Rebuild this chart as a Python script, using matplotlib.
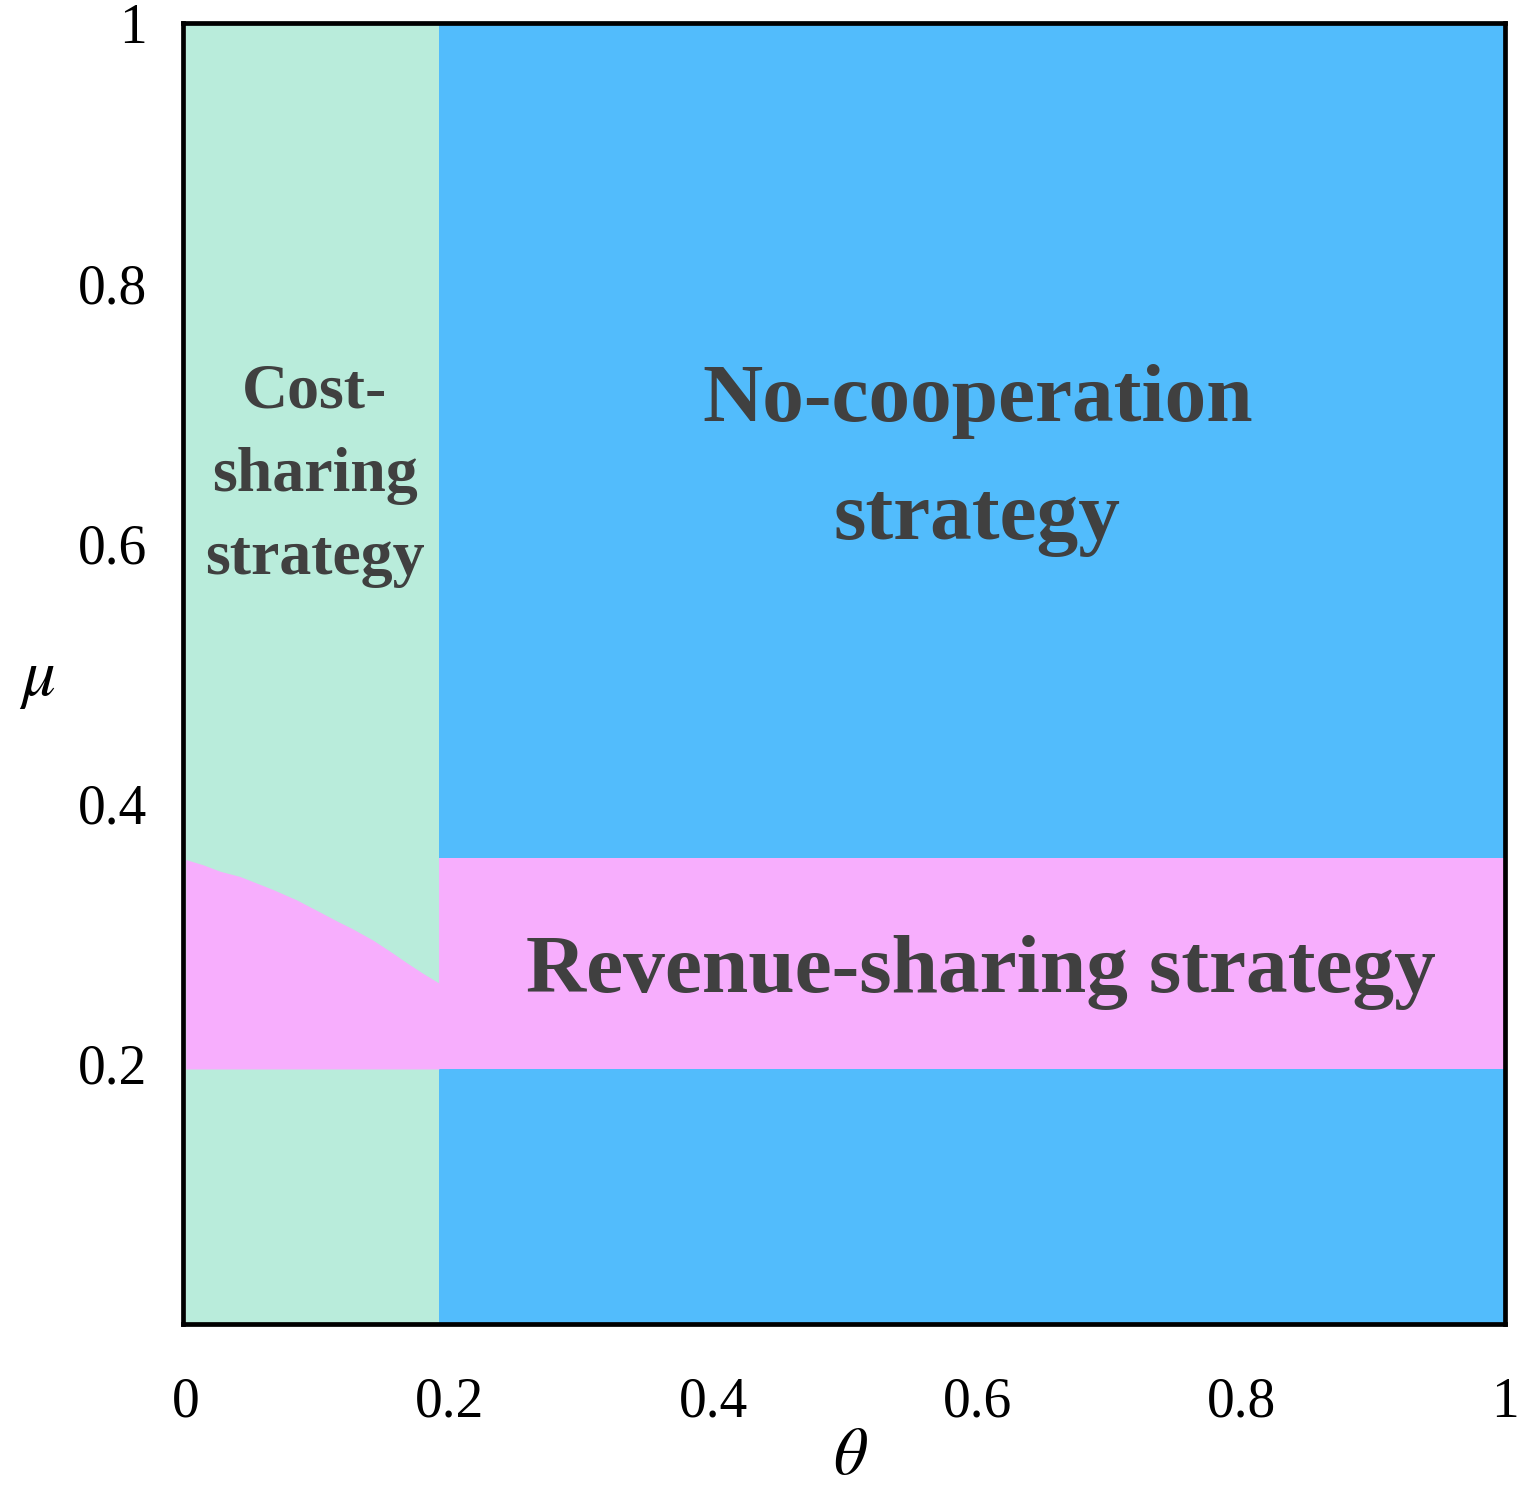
import matplotlib
matplotlib.use("Agg")
import matplotlib.pyplot as plt
import numpy as np

plt.rcParams.update({
    "font.family": ["Liberation Serif", "DejaVu Serif"],
    "mathtext.fontset": "stix",
})

GREEN = "#B9ECDB"
BLUE = "#52BCFC"
PINK = "#F7AEFD"
TEXT = "#404040"

# region boundaries
theta_split = 0.192                 # cost-sharing / no-cooperation boundary
band_low, band_high = 0.196, 0.358  # revenue-sharing band for theta > split
curve_theta = [0.0, 0.013, 0.026, 0.041, 0.051, 0.066, 0.084, 0.101,
               0.116, 0.126, 0.142, 0.157, 0.167, 0.179, 0.192]
curve_mu = [0.357, 0.353, 0.348, 0.344, 0.340, 0.334, 0.326, 0.317,
            0.309, 0.304, 0.295, 0.285, 0.278, 0.270, 0.262]

ticks = [0, 0.2, 0.4, 0.6, 0.8, 1]
x_ticklabels = ["0", "0.2", "0.4", "0.6", "0.8", "1"]
y_ticks = [0.2, 0.4, 0.6, 0.8, 1]
y_ticklabels = ["0.2", "0.4", "0.6", "0.8", "1"]

fig = plt.figure(figsize=(15.32, 14.97), dpi=100)
ax = fig.add_axes([0.1195, 0.1156, 0.863, 0.869])

# background regions
ax.axvspan(0, theta_split, color=GREEN, lw=0)
ax.axvspan(theta_split, 1, color=BLUE, lw=0)
ax.fill_between([theta_split, 1], band_low, band_high, color=PINK, lw=0)
ax.fill_between(curve_theta, band_low, curve_mu, color=PINK, lw=0)

ax.set_xlim(-0.002, 1)
ax.set_ylim(0, 1)

for s in ax.spines.values():
    s.set_linewidth(3.4)
    s.set_color("black")

ax.set_xticks(ticks)
ax.set_xticklabels(x_ticklabels)
ax.set_yticks(y_ticks)
ax.set_yticklabels(y_ticklabels)
ax.tick_params(length=0, labelsize=40)
ax.tick_params(axis="x", pad=38)
ax.tick_params(axis="y", pad=26)

ax.set_xlabel(r"$\theta$", fontsize=48)
ax.xaxis.label.set_va("center")
ax.xaxis.set_label_coords(0.505, -0.103)
ax.set_ylabel(r"$\mu$", fontsize=48, rotation=0)
ax.yaxis.label.set_va("center")
ax.yaxis.set_label_coords(-0.110, 0.495)

# region labels
ax.text(0.60, 0.664, "No-cooperation\nstrategy", fontsize=60, fontweight="bold",
        color=TEXT, ha="center", va="center", linespacing=1.75)
ax.text(0.603, 0.270, "Revenue-sharing strategy", fontsize=60, fontweight="bold",
        color=TEXT, ha="center", va="center")
ax.text(0.098, 0.652, "Cost-\nsharing\nstrategy", fontsize=46, fontweight="bold",
        color=TEXT, ha="center", va="center", linespacing=1.57)

fig.savefig("out.png", dpi=100)
